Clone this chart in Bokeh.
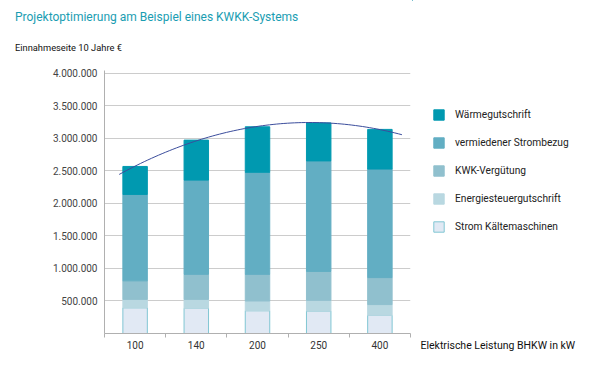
import numpy as np
from bokeh.plotting import figure
from bokeh.layouts import column, row
from bokeh.models import Range1d, FixedTicker, Label, Legend, LegendItem, ColumnDataSource, Div
from bokeh.embed import file_html
from bokeh.resources import INLINE

# ---------------- data ----------------
categories = ["100", "140", "200", "250", "400"]
series_names = ["Strom Kältemaschinen", "Energiesteuergutschrift", "KWK-Vergütung",
                "vermiedener Strombezug", "Wärmegutschrift"]
strom_kaelte = [395000, 390000, 350000, 345000, 280000]
energiesteuer = [130000, 135000, 150000, 165000, 165000]
kwk_verguetung = [285000, 385000, 410000, 445000, 415000]
vermiedener_strombezug = [1330000, 1450000, 1570000, 1700000, 1670000]
waermegutschrift = [430000, 615000, 700000, 585000, 610000]
y_ticks = [500000, 1000000, 1500000, 2000000, 2500000, 3000000, 3500000, 4000000]
y_tick_labels = ["500.000", "1.000.000", "1.500.000", "2.000.000", "2.500.000",
                 "3.000.000", "3.500.000", "4.000.000"]

title_text = "Projektoptimierung am Beispiel eines KWKK-Systems"
subtitle_text = "Einnahmeseite 10 Jahre €"
xlabel_text = "Elektrische Leistung BHKW in kW"

# ---------------- style ----------------
FONT = "Roboto"
fills = ["#e1e9f4", "#b9d8e1", "#90c0ce", "#62aec3", "#0099b0"]
lines = ["#80c6d3", "#b9d8e1", "#90c0ce", "#62aec3", "#0099b0"]

TOTAL_W, TOTAL_H = 600, 368
HEAD_H = 58
MAIN_W, MAIN_H = 412, TOTAL_H - HEAD_H
RIGHT_W = TOTAL_W - MAIN_W
FL, FW = 104, 306
FT, FH = 12, 263
Y_MAX = 4046000
N = len(categories)

# ---------------- header (title + subtitle) ----------------
head_html = (
    f'<div style="font-family:{FONT};font-size:12px;line-height:14px;color:#1a9db2;'
    f'padding:10px 0 0 15px;white-space:nowrap">{title_text}</div>'
    f'<div style="font-family:{FONT};font-size:9.3px;line-height:12px;color:#111111;'
    f'padding:18px 0 0 15px;white-space:nowrap">{subtitle_text}</div>'
)
head = Div(text=head_html, width=MAIN_W, height=HEAD_H, margin=0)

# ---------------- main chart ----------------
p = figure(width=MAIN_W, height=MAIN_H, output_backend="svg", toolbar_location=None,
           x_range=Range1d(0, N), y_range=Range1d(0, Y_MAX),
           min_border_left=FL, min_border_right=MAIN_W - FL - FW,
           min_border_top=FT, min_border_bottom=MAIN_H - FT - FH)
p.outline_line_color = None

xs = [i + 0.5 for i in range(N)]
keys = ["s0", "s1", "s2", "s3", "s4"]
src = ColumnDataSource(dict(x=xs, s0=strom_kaelte, s1=energiesteuer, s2=kwk_verguetung,
                            s3=vermiedener_strombezug, s4=waermegutschrift))
p.vbar_stack(keys, x="x", width=0.4, source=src, fill_color=fills,
             line_color=lines, line_width=1)

# trend line (2nd order polynomial over the totals)
totals = np.array(strom_kaelte) + np.array(energiesteuer) + np.array(kwk_verguetung) \
    + np.array(vermiedener_strombezug) + np.array(waermegutschrift)
coef = np.polyfit(xs, totals, 2)
tx = np.linspace(0.24, 4.86, 80)
p.line(tx, np.polyval(coef, tx), line_color="#3b4d9c", line_width=1)

p.xgrid.grid_line_color = None
p.ygrid.ticker = FixedTicker(ticks=y_ticks)
p.ygrid.grid_line_color = "#cccccc"

xa = p.xaxis[0]
xa.ticker = FixedTicker(ticks=xs, minor_ticks=list(range(N + 1)))
xa.major_label_overrides = {x: c for x, c in zip(xs, categories)}
xa.major_tick_in = 0
xa.major_tick_out = 0
xa.minor_tick_in = 0
xa.minor_tick_out = 4
xa.minor_tick_line_color = "#b0b0b0"
xa.axis_line_color = "#b0b0b0"
xa.major_label_text_font = FONT
xa.major_label_text_font_size = "10px"
xa.major_label_text_color = "#333333"
xa.major_label_standoff = 3

ya = p.yaxis[0]
ya.ticker = FixedTicker(ticks=y_ticks)
ya.major_label_overrides = {t: l for t, l in zip(y_ticks, y_tick_labels)}
ya.major_tick_in = 0
ya.major_tick_out = 0
ya.minor_tick_line_color = None
ya.axis_line_color = "#b0b0b0"
ya.major_label_text_font = FONT
ya.major_label_text_font_size = "10px"
ya.major_label_text_color = "#444444"
ya.major_label_standoff = 7

# ---------------- right panel (legend + x label), full height ----------------
side = figure(width=RIGHT_W, height=TOTAL_H, output_backend="svg", toolbar_location=None,
              x_range=Range1d(0, RIGHT_W), y_range=Range1d(TOTAL_H, 0),
              x_axis_location=None, y_axis_location=None, min_border=0)
side.grid.visible = False
side.outline_line_color = None

# legend swatch renderers (their single point lies far outside the visible range)
swatches = [side.vbar(x=[-5000], top=[-5000], bottom=[-5001], width=1,
                      fill_color=f, line_color=l)
            for f, l in zip(fills, lines)]
items = [LegendItem(label=n, renderers=[r]) for n, r in zip(series_names, swatches)][::-1]
legend = Legend(items=items, location=(20, TOTAL_H - 233), orientation="vertical",
                glyph_width=13, glyph_height=13, label_height=13, label_standoff=10,
                spacing=15, padding=0, margin=0, border_line_color=None,
                background_fill_alpha=0, label_text_font=FONT,
                label_text_font_size="10.2px", label_text_color="#222222")
side.add_layout(legend)
side.add_layout(Label(x=8, y=345, text=xlabel_text, text_font=FONT,
                      text_font_size="10.5px", text_color="#111111", text_baseline="middle"))

layout = row(column(head, p), side)
open("out.html", "w").write(file_html(layout, INLINE))
